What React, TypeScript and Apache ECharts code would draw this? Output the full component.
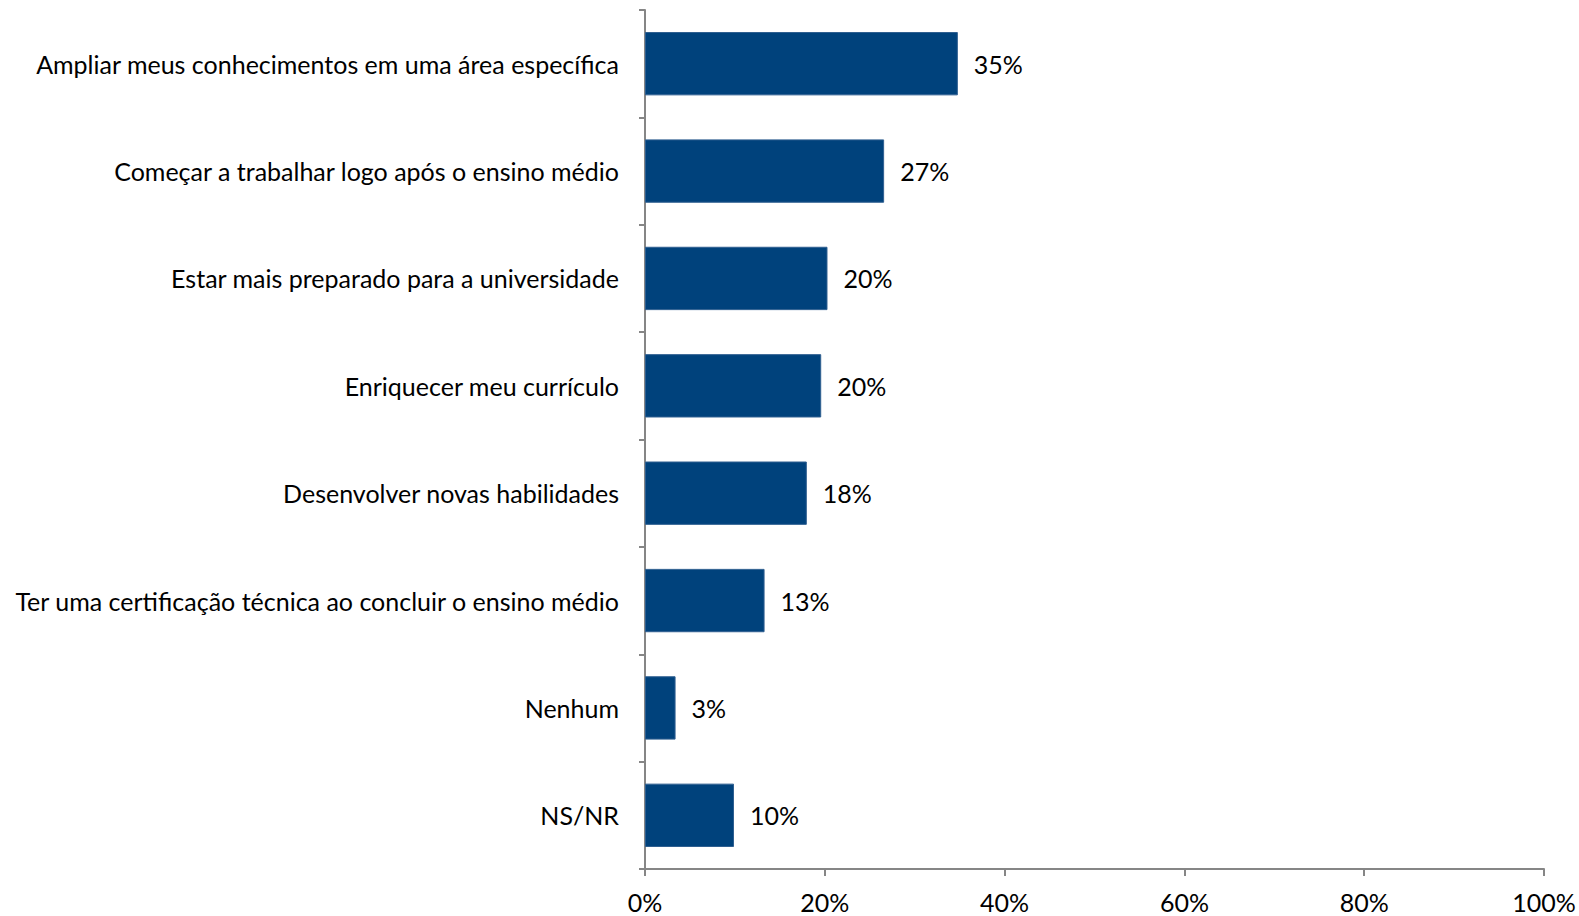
import React, { useEffect, useRef } from "react";
import * as echarts from "echarts";

const categories = [
  "Ampliar meus conhecimentos em uma área específica",
  "Começar a trabalhar logo após o ensino médio",
  "Estar mais preparado para a universidade",
  "Enriquecer meu currículo",
  "Desenvolver novas habilidades",
  "Ter uma certificação técnica ao concluir o ensino médio",
  "Nenhum",
  "NS/NR",
];
const values = [34.8, 26.6, 20.3, 19.6, 18.0, 13.3, 3.4, 9.9];
const xTicks = [0, 20, 40, 60, 80, 100];

const FONT = "Lato, 'Noto Sans', sans-serif";
const FS = 25;

export default function App() {
  const ref = useRef<HTMLDivElement>(null);
  useEffect(() => {
    if (!ref.current) return;
    const chart = echarts.init(ref.current, null, { renderer: "svg" });
    chart.setOption({
      animation: false,
      backgroundColor: "#ffffff",
      grid: { left: 645, right: 35, top: 10, bottom: 47, containLabel: false },
      xAxis: {
        type: "value",
        min: xTicks[0],
        max: xTicks[xTicks.length - 1],
        interval: 20,
        splitLine: { show: false },
        axisLine: { show: true, lineStyle: { color: "#868686", width: 2 } },
        axisTick: { show: true, length: 7, lineStyle: { color: "#868686", width: 2 } },
        axisLabel: {
          color: "#000",
          fontFamily: FONT,
          fontSize: FS,
          margin: 20,
          formatter: (v: number) => v + "%",
        },
      },
      yAxis: {
        type: "category",
        data: categories,
        inverse: true,
        axisLine: { show: true, lineStyle: { color: "#868686", width: 2 } },
        axisTick: { show: true, length: 6, lineStyle: { color: "#868686", width: 2 } },
        axisLabel: {
          color: "#000",
          fontFamily: FONT,
          fontSize: FS,
          margin: 26,
        },
      },
      series: [
        {
          type: "bar",
          data: values,
          barCategoryGap: "41%",
          itemStyle: { color: "#00427C", borderColor: "#2f5f90", borderWidth: 1 },
          label: {
            show: true,
            position: "right",
            distance: 16,
            color: "#000",
            fontFamily: FONT,
            fontSize: FS,
            formatter: (p: any) => Math.round(p.value) + "%",
          },
        },
      ],
    });
    return () => chart.dispose();
  }, []);
  return (
    <div
      ref={ref}
      style={{ position: "absolute", left: 0, top: 0, width: 1579, height: 916 }}
    />
  );
}
